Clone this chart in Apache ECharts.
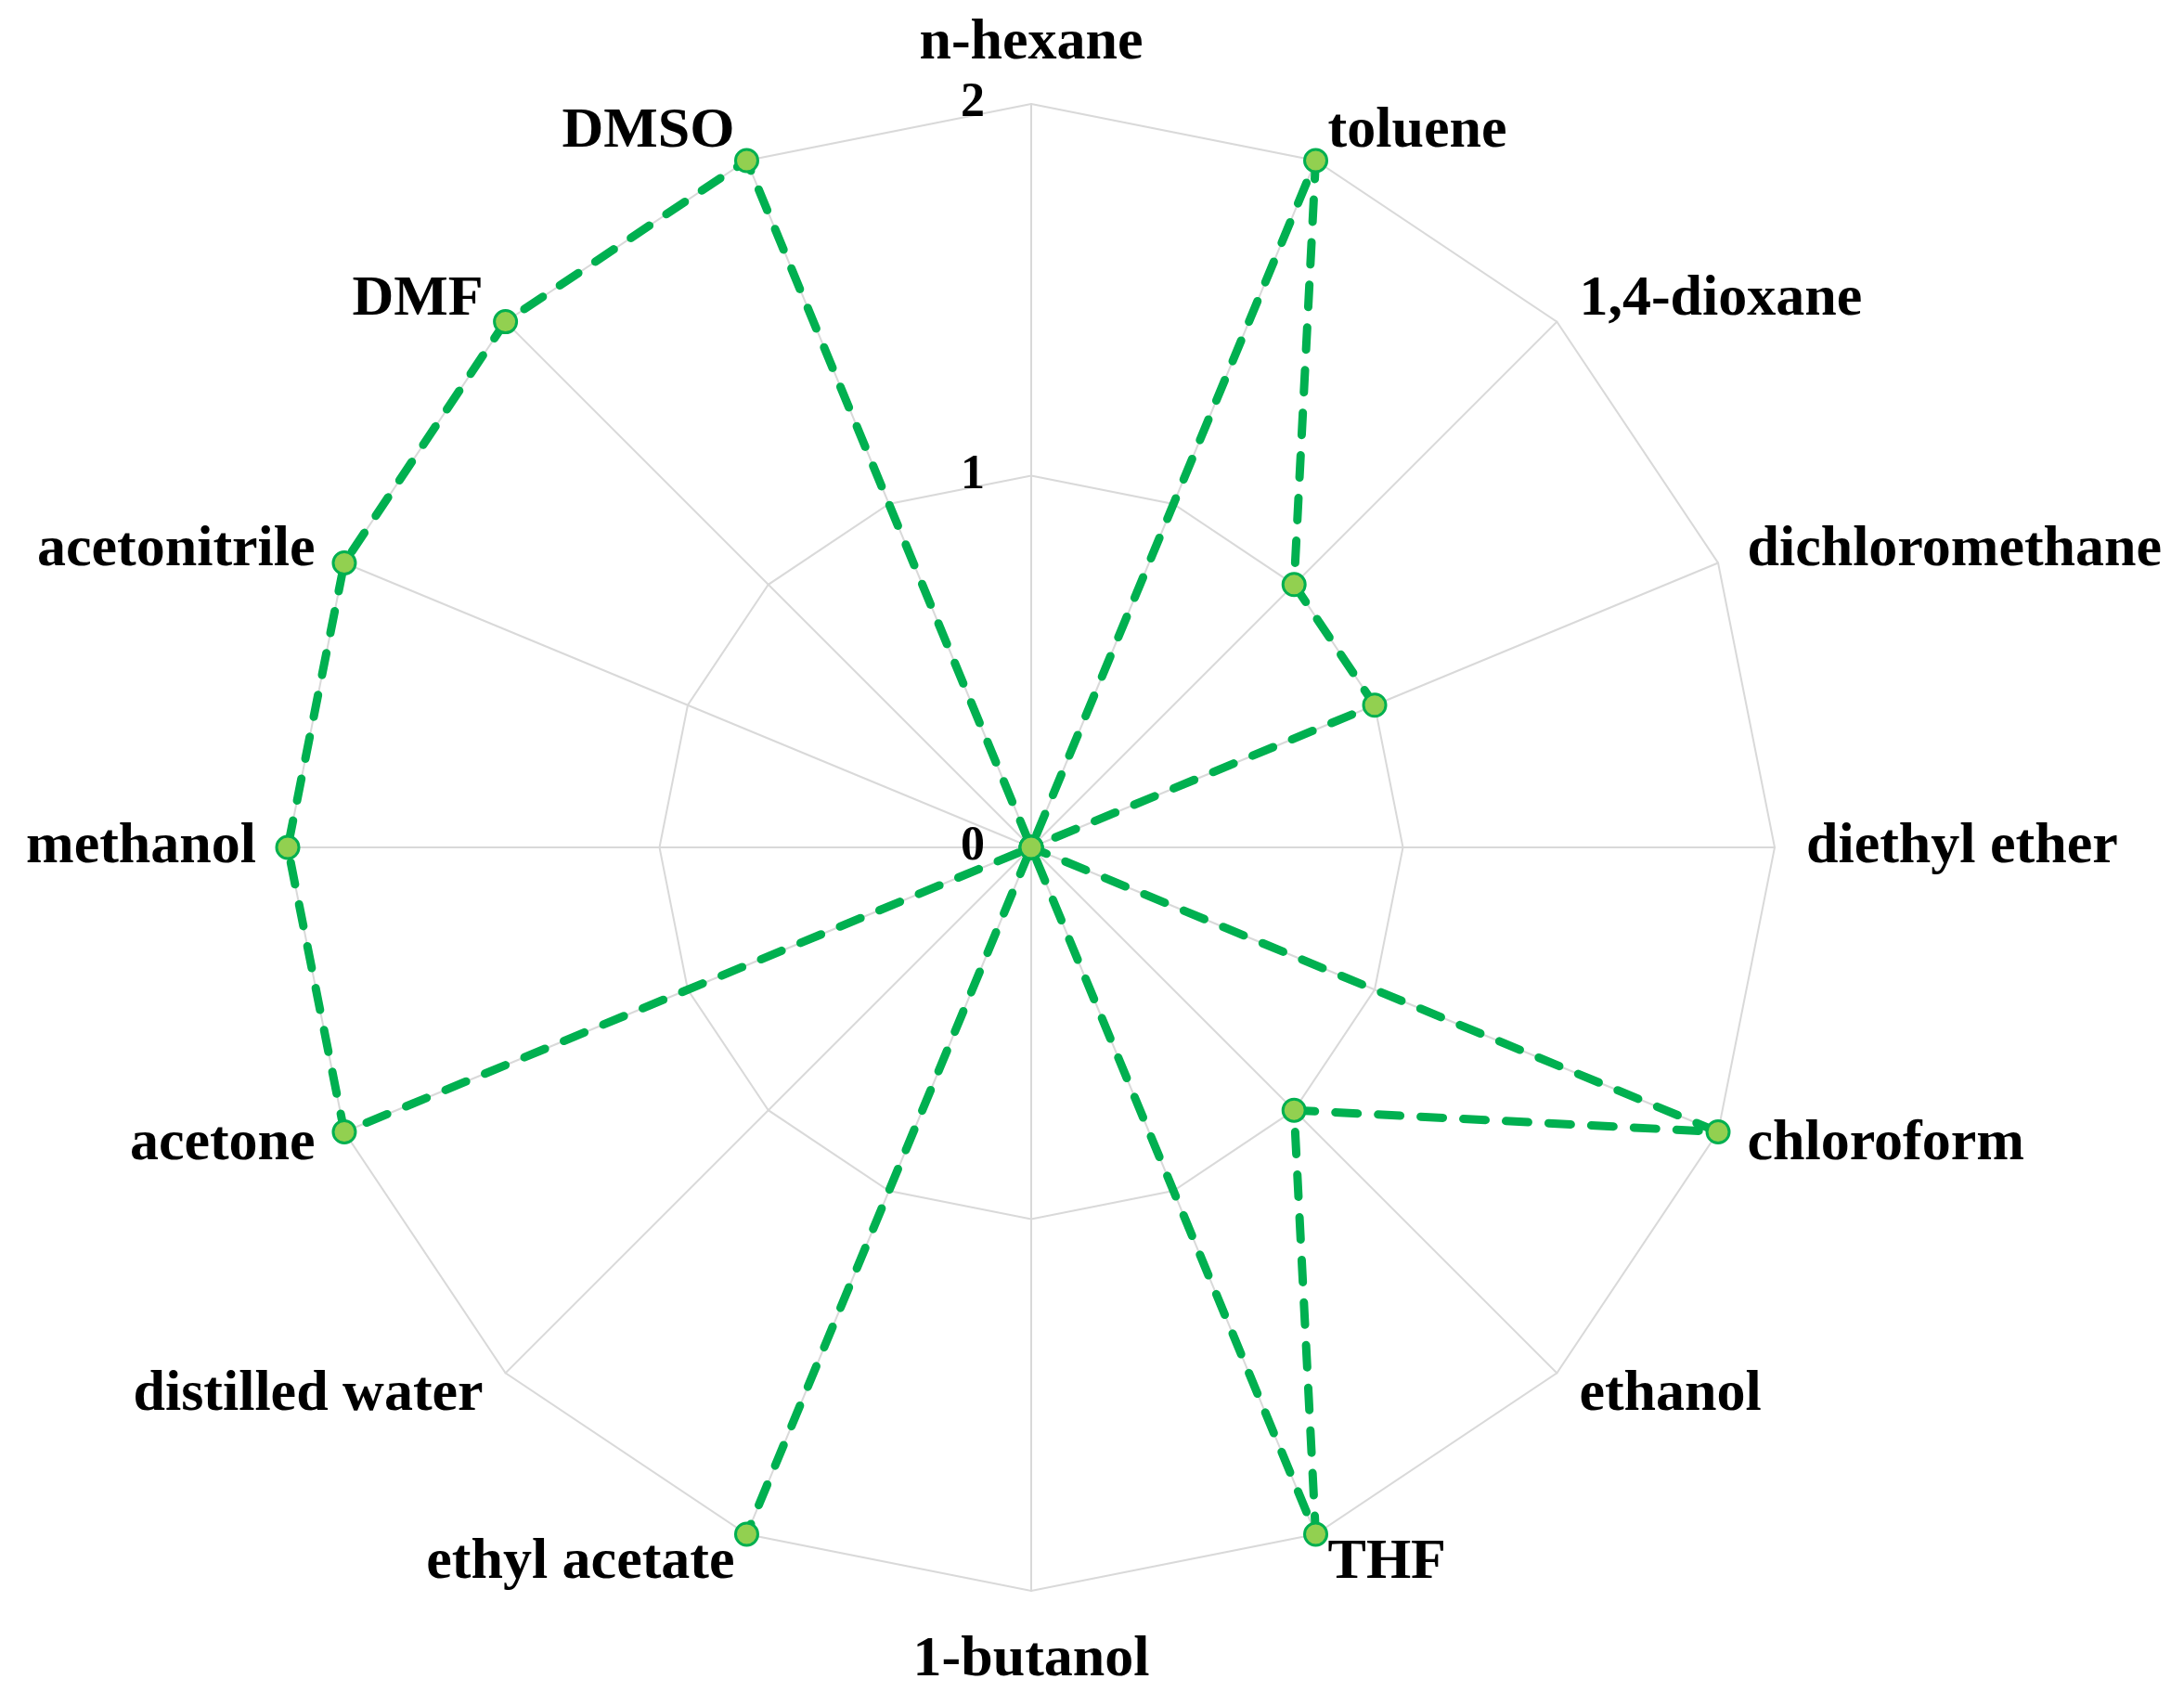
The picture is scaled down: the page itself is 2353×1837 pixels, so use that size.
<!DOCTYPE html>
<html>
<head>
<meta charset="utf-8">
<script src="https://cdn.jsdelivr.net/npm/echarts@6/dist/echarts.min.js"></script>
<style>
  html, body { margin: 0; padding: 0; background: #fff; }
  #chart { width: 2353px; height: 1837px; }
</style>
</head>
<body>
<div id="chart"></div>
<script>
// solvents, counter-clockwise from the top (n-hexane)
var solvents = ['n-hexane', 'DMSO', 'DMF', 'acetonitrile', 'methanol', 'acetone',
  'distilled water', 'ethyl acetate', '1-butanol', 'THF', 'ethanol', 'chloroform',
  'diethyl ether', 'dichloromethane', '1,4-dioxane', 'toluene'];
var scores = [0, 2, 2, 2, 2, 2, 0, 2, 0, 2, 1, 2, 0, 1, 1, 2];
var tickValues = [0, 1, 2];
var maxScore = 2;

var R = 801;
var center = [1111, 913];
var dash = [24, 22];
var font = 'Liberation Serif';

// The ethyl acetate spoke is drawn twice (out and back); shift the dash
// phase so both passes land on the same dashes, as in the original.
function dashOffset() {
  var n = scores.length, step = Math.PI * 2 / n, s = 0;
  var turn = scores.indexOf(2, solvents.indexOf('ethyl acetate'));
  for (var i = 0; i < turn; i++) {
    var a = scores[i] / maxScore * R, b = scores[i + 1] / maxScore * R;
    s += Math.sqrt(a * a + b * b - 2 * a * b * Math.cos(step));
  }
  var p = dash[0] + dash[1];
  return (((dash[0] / 2 - s) % p) + p) % p;
}

var chart = echarts.init(document.getElementById('chart'));

chart.setOption({
  backgroundColor: '#ffffff',
  animation: false,
  radar: {
    center: center,
    radius: R,
    startAngle: 90,
    shape: 'polygon',
    splitNumber: tickValues.length - 1,
    indicator: solvents.map(function (s) { return { name: s, min: 0, max: maxScore }; }),
    axisName: {
      color: '#000',
      fontFamily: font,
      fontWeight: 'bold',
      fontSize: 62,
      padding: [10, 0, 0, 0]
    },
    nameGap: 34,
    axisLine: { lineStyle: { color: '#d9d9d9', width: 2 } },
    splitLine: { lineStyle: { color: '#d9d9d9', width: 2 } },
    splitArea: { show: false },
    axisTick: { show: false },
    axisLabel: { show: false }
  },
  // only used to print 0 / 1 / 2 along the top axis
  polar: { center: center, radius: R },
  angleAxis: { type: 'value', startAngle: 90, show: false, min: 0, max: 360 },
  radiusAxis: {
    type: 'value',
    min: 0,
    max: maxScore,
    interval: 1,
    axisLine: { show: false },
    axisTick: { show: false },
    splitLine: { show: false },
    axisLabel: {
      show: true,
      margin: 50,
      color: '#000',
      fontFamily: font,
      fontWeight: 'bold',
      fontSize: 52
    }
  },
  series: [{
    type: 'radar',
    symbol: 'circle',
    symbolSize: 24,
    itemStyle: { color: '#92d050', borderColor: '#00b050', borderWidth: 3 },
    lineStyle: { color: '#00b050', width: 9, type: dash, dashOffset: dashOffset(), cap: 'round' },
    data: [{ value: scores }]
  }]
});
</script>
</body>
</html>
